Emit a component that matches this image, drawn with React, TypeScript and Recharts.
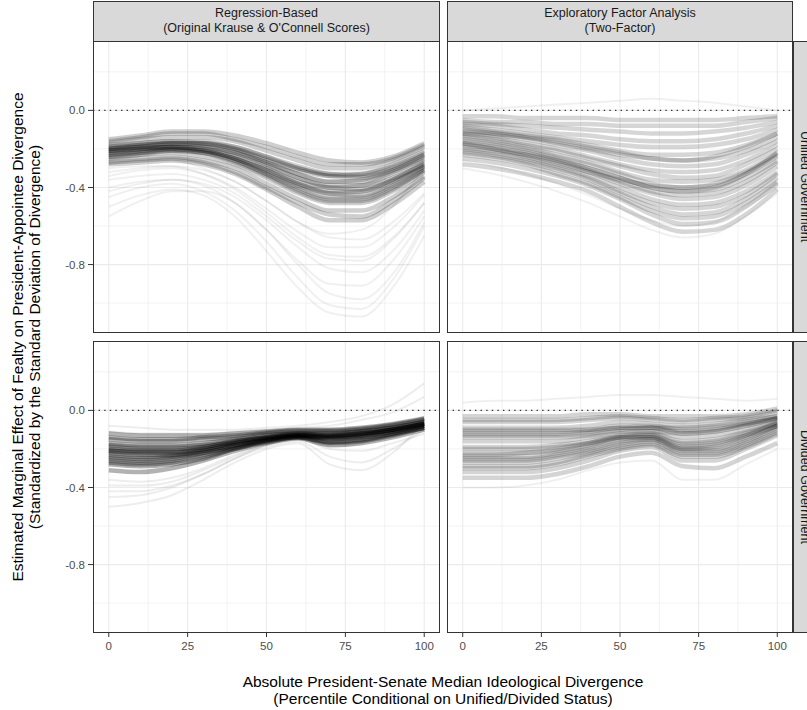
import React from "react";
import { LineChart, Line, XAxis, YAxis, CartesianGrid, ReferenceLine } from "recharts";

// x positions where each simulated curve was read off the picture
const xs = [0, 10, 20, 30, 40, 50, 60, 70, 80, 90, 100];
const xTicks = [0, 25, 50, 75, 100];
const xMinor = [12.5, 37.5, 62.5, 87.5];
const yTicks = [-0.8, -0.4, 0];
const yMinor = [-1.0, -0.6, -0.2, 0.2];

const colLabels = [
  ["Regression-Based", "(Original Krause & O'Connell Scores)"],
  ["Exploratory Factor Analysis", "(Two-Factor)"],
];
const rowLabels = ["Unified Government", "Divided Government"];

// Unified government, regression-based
const unifiedRegCore = [
  [-0.15, -0.13, -0.11, -0.11, -0.13, -0.17, -0.22, -0.26, -0.27, -0.24, -0.17],
  [-0.16, -0.14, -0.12, -0.12, -0.15, -0.19, -0.24, -0.28, -0.28, -0.25, -0.18],
  [-0.17, -0.15, -0.14, -0.14, -0.16, -0.21, -0.26, -0.30, -0.30, -0.26, -0.19],
  [-0.18, -0.17, -0.16, -0.17, -0.20, -0.26, -0.31, -0.34, -0.33, -0.28, -0.21],
  [-0.19, -0.18, -0.17, -0.17, -0.19, -0.24, -0.30, -0.33, -0.33, -0.29, -0.22],
  [-0.19, -0.17, -0.16, -0.16, -0.19, -0.24, -0.29, -0.33, -0.34, -0.30, -0.23],
  [-0.20, -0.19, -0.18, -0.19, -0.22, -0.27, -0.33, -0.37, -0.37, -0.32, -0.25],
  [-0.20, -0.18, -0.17, -0.18, -0.21, -0.27, -0.33, -0.37, -0.36, -0.31, -0.23],
  [-0.20, -0.19, -0.19, -0.21, -0.25, -0.32, -0.39, -0.43, -0.42, -0.36, -0.27],
  [-0.21, -0.20, -0.19, -0.20, -0.23, -0.29, -0.35, -0.39, -0.39, -0.35, -0.28],
  [-0.21, -0.20, -0.20, -0.22, -0.27, -0.34, -0.42, -0.47, -0.47, -0.41, -0.31],
  [-0.22, -0.20, -0.19, -0.20, -0.24, -0.30, -0.37, -0.40, -0.39, -0.33, -0.26],
  [-0.22, -0.21, -0.20, -0.21, -0.25, -0.31, -0.38, -0.42, -0.42, -0.37, -0.29],
  [-0.23, -0.22, -0.21, -0.22, -0.26, -0.33, -0.40, -0.45, -0.45, -0.39, -0.30],
  [-0.24, -0.22, -0.20, -0.21, -0.25, -0.31, -0.38, -0.43, -0.44, -0.38, -0.29],
  [-0.24, -0.23, -0.22, -0.24, -0.28, -0.35, -0.43, -0.48, -0.48, -0.42, -0.32],
  [-0.25, -0.23, -0.21, -0.22, -0.26, -0.33, -0.41, -0.46, -0.46, -0.40, -0.31],
  [-0.26, -0.25, -0.24, -0.26, -0.30, -0.38, -0.46, -0.52, -0.52, -0.45, -0.34],
  [-0.27, -0.26, -0.25, -0.27, -0.32, -0.40, -0.48, -0.54, -0.55, -0.47, -0.35],
  [-0.28, -0.27, -0.26, -0.28, -0.33, -0.41, -0.50, -0.57, -0.57, -0.49, -0.37],
  [-0.21, -0.19, -0.17, -0.17, -0.20, -0.25, -0.30, -0.34, -0.35, -0.31, -0.24],
  [-0.23, -0.21, -0.19, -0.19, -0.22, -0.28, -0.35, -0.40, -0.41, -0.36, -0.28],
];
const unifiedRegFaint = [
  [-0.30, -0.29, -0.29, -0.33, -0.41, -0.53, -0.66, -0.75, -0.76, -0.66, -0.48],
  [-0.32, -0.30, -0.29, -0.31, -0.37, -0.47, -0.58, -0.66, -0.67, -0.58, -0.43],
  [-0.36, -0.34, -0.33, -0.36, -0.43, -0.55, -0.68, -0.77, -0.78, -0.67, -0.48],
  [-0.40, -0.37, -0.36, -0.39, -0.48, -0.62, -0.78, -0.90, -0.91, -0.78, -0.55],
  [-0.45, -0.40, -0.38, -0.42, -0.52, -0.68, -0.87, -1.01, -1.03, -0.88, -0.60],
  [-0.50, -0.44, -0.41, -0.44, -0.55, -0.73, -0.92, -1.05, -1.07, -0.92, -0.65],
  [-0.55, -0.47, -0.42, -0.42, -0.48, -0.62, -0.80, -0.95, -0.98, -0.85, -0.58],
  [-0.28, -0.26, -0.26, -0.30, -0.37, -0.47, -0.58, -0.64, -0.62, -0.50, -0.30],
  [-0.34, -0.31, -0.30, -0.33, -0.40, -0.51, -0.63, -0.71, -0.71, -0.61, -0.44],
  [-0.42, -0.38, -0.36, -0.38, -0.45, -0.57, -0.71, -0.82, -0.84, -0.73, -0.52],
];

// Unified government, exploratory factor analysis
const unifiedEfaCore = [
  [-0.03, -0.03, -0.04, -0.04, -0.04, -0.05, -0.05, -0.05, -0.05, -0.04, -0.03],
  [-0.05, -0.06, -0.06, -0.07, -0.07, -0.08, -0.08, -0.08, -0.08, -0.06, -0.04],
  [-0.06, -0.07, -0.08, -0.09, -0.10, -0.11, -0.12, -0.12, -0.11, -0.09, -0.06],
  [-0.07, -0.08, -0.10, -0.12, -0.13, -0.15, -0.16, -0.16, -0.15, -0.12, -0.08],
  [-0.08, -0.10, -0.12, -0.14, -0.16, -0.18, -0.19, -0.19, -0.18, -0.15, -0.10],
  [-0.09, -0.11, -0.13, -0.15, -0.18, -0.21, -0.23, -0.23, -0.22, -0.18, -0.12],
  [-0.10, -0.12, -0.14, -0.17, -0.20, -0.23, -0.25, -0.26, -0.25, -0.21, -0.14],
  [-0.11, -0.12, -0.14, -0.16, -0.19, -0.22, -0.25, -0.26, -0.24, -0.19, -0.12],
  [-0.12, -0.13, -0.15, -0.18, -0.21, -0.25, -0.28, -0.29, -0.28, -0.23, -0.16],
  [-0.12, -0.14, -0.17, -0.20, -0.24, -0.28, -0.31, -0.32, -0.31, -0.26, -0.18],
  [-0.13, -0.15, -0.18, -0.21, -0.25, -0.29, -0.33, -0.35, -0.34, -0.28, -0.20],
  [-0.14, -0.16, -0.19, -0.23, -0.27, -0.32, -0.36, -0.37, -0.36, -0.31, -0.22],
  [-0.15, -0.17, -0.20, -0.24, -0.28, -0.33, -0.38, -0.40, -0.39, -0.33, -0.24],
  [-0.16, -0.18, -0.21, -0.25, -0.30, -0.35, -0.40, -0.42, -0.41, -0.35, -0.26],
  [-0.17, -0.20, -0.24, -0.28, -0.32, -0.36, -0.39, -0.40, -0.38, -0.32, -0.23],
  [-0.17, -0.19, -0.22, -0.26, -0.31, -0.37, -0.42, -0.44, -0.43, -0.37, -0.27],
  [-0.18, -0.20, -0.23, -0.27, -0.32, -0.38, -0.43, -0.46, -0.45, -0.39, -0.29],
  [-0.19, -0.21, -0.23, -0.26, -0.30, -0.35, -0.40, -0.42, -0.40, -0.33, -0.22],
  [-0.20, -0.22, -0.25, -0.29, -0.34, -0.40, -0.46, -0.49, -0.48, -0.42, -0.32],
  [-0.21, -0.23, -0.26, -0.30, -0.35, -0.42, -0.48, -0.51, -0.50, -0.44, -0.33],
  [-0.22, -0.24, -0.27, -0.31, -0.36, -0.43, -0.50, -0.54, -0.53, -0.46, -0.35],
  [-0.23, -0.25, -0.28, -0.33, -0.38, -0.45, -0.52, -0.56, -0.55, -0.48, -0.37],
  [-0.25, -0.27, -0.30, -0.34, -0.39, -0.46, -0.54, -0.59, -0.58, -0.50, -0.38],
  [-0.28, -0.30, -0.33, -0.37, -0.42, -0.50, -0.58, -0.63, -0.62, -0.54, -0.41],
];
const unifiedEfaFaint = [
  [0.0, 0.01, 0.02, 0.03, 0.04, 0.05, 0.06, 0.05, 0.04, 0.02, 0.0],
  [-0.26, -0.29, -0.33, -0.38, -0.44, -0.51, -0.57, -0.60, -0.58, -0.50, -0.40],
  [-0.30, -0.33, -0.37, -0.42, -0.48, -0.55, -0.62, -0.66, -0.64, -0.55, -0.43],
];

// Divided government, regression-based
const dividedRegCore = [
  [-0.12, -0.13, -0.13, -0.13, -0.12, -0.11, -0.10, -0.10, -0.09, -0.07, -0.04],
  [-0.14, -0.15, -0.15, -0.14, -0.13, -0.115, -0.105, -0.105, -0.095, -0.075, -0.045],
  [-0.15, -0.16, -0.16, -0.15, -0.14, -0.12, -0.11, -0.11, -0.10, -0.08, -0.05],
  [-0.17, -0.18, -0.18, -0.17, -0.15, -0.13, -0.12, -0.12, -0.11, -0.09, -0.06],
  [-0.18, -0.19, -0.19, -0.18, -0.16, -0.14, -0.125, -0.13, -0.12, -0.10, -0.07],
  [-0.19, -0.20, -0.20, -0.19, -0.16, -0.14, -0.12, -0.13, -0.12, -0.10, -0.07],
  [-0.20, -0.21, -0.21, -0.19, -0.165, -0.14, -0.125, -0.125, -0.11, -0.09, -0.06],
  [-0.21, -0.215, -0.215, -0.20, -0.17, -0.145, -0.13, -0.135, -0.12, -0.10, -0.07],
  [-0.21, -0.22, -0.22, -0.20, -0.17, -0.145, -0.13, -0.135, -0.125, -0.10, -0.07],
  [-0.22, -0.23, -0.23, -0.21, -0.18, -0.15, -0.13, -0.14, -0.13, -0.11, -0.08],
  [-0.23, -0.24, -0.235, -0.21, -0.18, -0.15, -0.13, -0.14, -0.13, -0.10, -0.07],
  [-0.24, -0.25, -0.24, -0.22, -0.19, -0.155, -0.135, -0.15, -0.14, -0.12, -0.08],
  [-0.25, -0.26, -0.25, -0.22, -0.185, -0.155, -0.135, -0.145, -0.135, -0.11, -0.08],
  [-0.26, -0.27, -0.26, -0.23, -0.195, -0.16, -0.14, -0.16, -0.15, -0.12, -0.09],
  [-0.27, -0.28, -0.27, -0.24, -0.20, -0.16, -0.14, -0.165, -0.155, -0.125, -0.09],
  [-0.28, -0.29, -0.28, -0.25, -0.20, -0.165, -0.14, -0.17, -0.16, -0.13, -0.09],
  [-0.31, -0.32, -0.30, -0.26, -0.21, -0.17, -0.145, -0.18, -0.17, -0.14, -0.10],
];
const dividedRegFaint = [
  [-0.36, -0.37, -0.35, -0.30, -0.23, -0.18, -0.15, -0.20, -0.21, -0.17, -0.12],
  [-0.42, -0.42, -0.39, -0.33, -0.25, -0.19, -0.16, -0.24, -0.27, -0.20, -0.10],
  [-0.50, -0.48, -0.44, -0.36, -0.27, -0.20, -0.17, -0.28, -0.31, -0.22, -0.06],
  [-0.45, -0.44, -0.40, -0.33, -0.25, -0.18, -0.15, -0.19, -0.17, -0.12, -0.05],
  [-0.39, -0.39, -0.37, -0.31, -0.24, -0.18, -0.15, -0.17, -0.16, -0.13, -0.08],
  [-0.08, -0.09, -0.10, -0.10, -0.10, -0.09, -0.08, -0.06, -0.03, 0.03, 0.14],
  [-0.11, -0.12, -0.12, -0.12, -0.11, -0.10, -0.09, -0.08, -0.05, -0.01, 0.07],
];

// Divided government, exploratory factor analysis
const dividedEfaCore = [
  [-0.03, -0.03, -0.03, -0.03, -0.02, -0.02, -0.03, -0.03, -0.03, -0.02, 0.01],
  [-0.05, -0.05, -0.05, -0.05, -0.04, -0.03, -0.04, -0.05, -0.04, -0.03, 0.0],
  [-0.06, -0.06, -0.06, -0.06, -0.05, -0.04, -0.05, -0.06, -0.05, -0.04, -0.01],
  [-0.09, -0.09, -0.09, -0.09, -0.08, -0.06, -0.07, -0.08, -0.07, -0.05, -0.03],
  [-0.10, -0.10, -0.10, -0.10, -0.10, -0.09, -0.09, -0.09, -0.08, -0.06, -0.03],
  [-0.11, -0.11, -0.11, -0.11, -0.10, -0.08, -0.08, -0.10, -0.09, -0.07, -0.04],
  [-0.12, -0.12, -0.12, -0.12, -0.11, -0.09, -0.09, -0.11, -0.10, -0.07, -0.04],
  [-0.13, -0.13, -0.13, -0.13, -0.12, -0.10, -0.09, -0.12, -0.11, -0.08, -0.05],
  [-0.14, -0.14, -0.14, -0.14, -0.13, -0.11, -0.11, -0.12, -0.11, -0.08, -0.04],
  [-0.16, -0.16, -0.16, -0.16, -0.14, -0.12, -0.11, -0.14, -0.13, -0.10, -0.06],
  [-0.19, -0.19, -0.19, -0.18, -0.16, -0.13, -0.12, -0.16, -0.15, -0.11, -0.07],
  [-0.20, -0.20, -0.20, -0.19, -0.17, -0.14, -0.13, -0.17, -0.16, -0.12, -0.07],
  [-0.22, -0.22, -0.22, -0.21, -0.18, -0.14, -0.13, -0.18, -0.17, -0.13, -0.08],
  [-0.23, -0.23, -0.22, -0.20, -0.17, -0.14, -0.14, -0.19, -0.18, -0.13, -0.06],
  [-0.24, -0.24, -0.24, -0.22, -0.19, -0.15, -0.14, -0.20, -0.19, -0.14, -0.08],
  [-0.25, -0.25, -0.25, -0.23, -0.20, -0.16, -0.15, -0.20, -0.20, -0.15, -0.08],
  [-0.26, -0.26, -0.26, -0.24, -0.21, -0.17, -0.15, -0.21, -0.21, -0.16, -0.09],
  [-0.27, -0.27, -0.27, -0.25, -0.22, -0.18, -0.16, -0.22, -0.22, -0.17, -0.10],
  [-0.29, -0.29, -0.29, -0.27, -0.23, -0.19, -0.17, -0.23, -0.23, -0.18, -0.11],
  [-0.30, -0.30, -0.30, -0.28, -0.24, -0.20, -0.18, -0.24, -0.24, -0.19, -0.12],
  [-0.32, -0.32, -0.32, -0.30, -0.26, -0.21, -0.19, -0.26, -0.26, -0.20, -0.13],
  [-0.35, -0.35, -0.35, -0.33, -0.29, -0.24, -0.22, -0.29, -0.30, -0.24, -0.17],
];
const dividedEfaFaint = [
  [0.04, 0.05, 0.05, 0.06, 0.07, 0.08, 0.08, 0.07, 0.06, 0.05, 0.06],
  [-0.40, -0.40, -0.39, -0.36, -0.31, -0.27, -0.26, -0.36, -0.36, -0.28, -0.20],
];

const FONT = "'Liberation Sans', Arial, Helvetica, sans-serif";
const Y_DOMAIN = [-1.155, 0.36];
const X_DOMAIN = [-5, 105];

type PanelProps = {
  core: number[][];
  faint: number[][];
  coreOpacity: number;
  faintOpacity: number;
  showX: boolean;
  showY: boolean;
  left: number;
  top: number;
};

function Panel({ core, faint, coreOpacity, faintOpacity, showX, showY, left, top }: PanelProps) {
  const curves = [...core, ...faint];
  const rows = xs.map((x, i) => {
    const r: Record<string, number> = { x };
    curves.forEach((c, j) => {
      r["s" + j] = c[i];
    });
    return r;
  });
  const width = showY ? 440 : 346;
  const height = showX ? 317 : 292;

  return (
    <div style={{ position: "absolute", left, top }}>
      <LineChart width={width} height={height} data={rows} margin={{ top: 0, right: 0, bottom: 0, left: 0 }}>
        <CartesianGrid stroke="#ebebeb" strokeWidth={0.6} verticalValues={xMinor} horizontalValues={yMinor} />
        <CartesianGrid stroke="#ebebeb" strokeWidth={1.1} verticalValues={xTicks} horizontalValues={yTicks} />
        <XAxis
          dataKey="x"
          type="number"
          domain={X_DOMAIN}
          ticks={xTicks}
          hide={!showX}
          height={25}
          axisLine={false}
          tickSize={4}
          tickMargin={5}
          tickLine={{ stroke: "#333333" }}
          tick={{ fontSize: 11.5, fill: "#4d4d4d", fontFamily: FONT }}
          allowDataOverflow
        />
        <YAxis
          type="number"
          domain={Y_DOMAIN}
          ticks={yTicks}
          hide={!showY}
          width={93}
          axisLine={false}
          tickSize={5}
          tickMargin={3}
          tickLine={{ stroke: "#333333" }}
          tick={{ fontSize: 11.5, fill: "#4d4d4d", fontFamily: FONT }}
          tickFormatter={(v: number) => v.toFixed(1)}
          allowDataOverflow
        />
        {faint.map((_, j) => (
          <Line
            key={"f" + j}
            dataKey={"s" + (core.length + j)}
            type="monotone"
            stroke="#000000"
            strokeOpacity={faintOpacity}
            strokeWidth={2}
            dot={false}
            activeDot={false}
            isAnimationActive={false}
          />
        ))}
        {core.map((_, j) => (
          <Line
            key={"c" + j}
            dataKey={"s" + j}
            type="monotone"
            stroke="#000000"
            strokeOpacity={coreOpacity}
            strokeWidth={4.5}
            dot={false}
            activeDot={false}
            isAnimationActive={false}
          />
        ))}
        <ReferenceLine y={0} stroke="#333333" strokeWidth={1.4} strokeDasharray="1.4 4.2" />
      </LineChart>
    </div>
  );
}

const boxBase: React.CSSProperties = {
  position: "absolute",
  boxSizing: "border-box",
  border: "1px solid #333333",
};

export default function App() {
  const panelLefts = [93, 447];
  const panelWidths = [347, 346];
  const panelTops = [41, 341];

  return (
    <div
      style={{
        position: "absolute",
        left: 0,
        top: 0,
        width: 807,
        height: 710,
        overflow: "hidden",
        background: "#ffffff",
        fontFamily: FONT,
      }}
    >
      <Panel core={unifiedRegCore} faint={unifiedRegFaint} coreOpacity={0.19} faintOpacity={0.06} showX={false} showY left={0} top={41} />
      <Panel core={unifiedEfaCore} faint={unifiedEfaFaint} coreOpacity={0.16} faintOpacity={0.06} showX={false} showY={false} left={447} top={41} />
      <Panel core={dividedRegCore} faint={dividedRegFaint} coreOpacity={0.3} faintOpacity={0.07} showX showY left={0} top={341} />
      <Panel core={dividedEfaCore} faint={dividedEfaFaint} coreOpacity={0.17} faintOpacity={0.06} showX showY={false} left={447} top={341} />

      {/* panel borders */}
      {panelTops.map((t) =>
        panelLefts.map((l, i) => (
          <div key={`${t}-${l}`} style={{ ...boxBase, left: l, top: t, width: panelWidths[i], height: 292 }} />
        ))
      )}

      {/* column strips */}
      {colLabels.map((lines, i) => (
        <div
          key={lines[0]}
          style={{
            ...boxBase,
            left: panelLefts[i],
            top: 1,
            width: panelWidths[i],
            height: 41,
            background: "#d9d9d9",
            color: "#1a1a1a",
            fontSize: 12.5,
            lineHeight: "14.5px",
            textAlign: "center",
            paddingTop: 4,
          }}
        >
          <div>{lines[0]}</div>
          <div>{lines[1]}</div>
        </div>
      ))}

      {/* row strips */}
      {rowLabels.map((label, i) => (
        <div
          key={label}
          style={{
            ...boxBase,
            left: 793,
            top: panelTops[i],
            width: 23,
            height: 292,
            background: "#d9d9d9",
            color: "#1a1a1a",
            fontSize: 12.5,
            display: "flex",
            alignItems: "center",
            justifyContent: "center",
          }}
        >
          <span style={{ writingMode: "vertical-rl", whiteSpace: "nowrap" }}>{label}</span>
        </div>
      ))}

      {/* axis titles */}
      <svg width={807} height={710} style={{ position: "absolute", left: 0, top: 0, pointerEvents: "none" }}>
        <g fontFamily={FONT} fontSize={15.5} fill="#000000" textAnchor="middle">
          <text transform="translate(22.5,337) rotate(-90)">
            Estimated Marginal Effect of Fealty on President-Appointee Divergence
          </text>
          <text transform="translate(40,337) rotate(-90)">
            (Standardized by the Standard Deviation of Divergence)
          </text>
          <text x={443} y={686.5}>Absolute President-Senate Median Ideological Divergence</text>
          <text x={443} y={704}>(Percentile Conditional on Unified/Divided Status)</text>
        </g>
      </svg>
    </div>
  );
}
